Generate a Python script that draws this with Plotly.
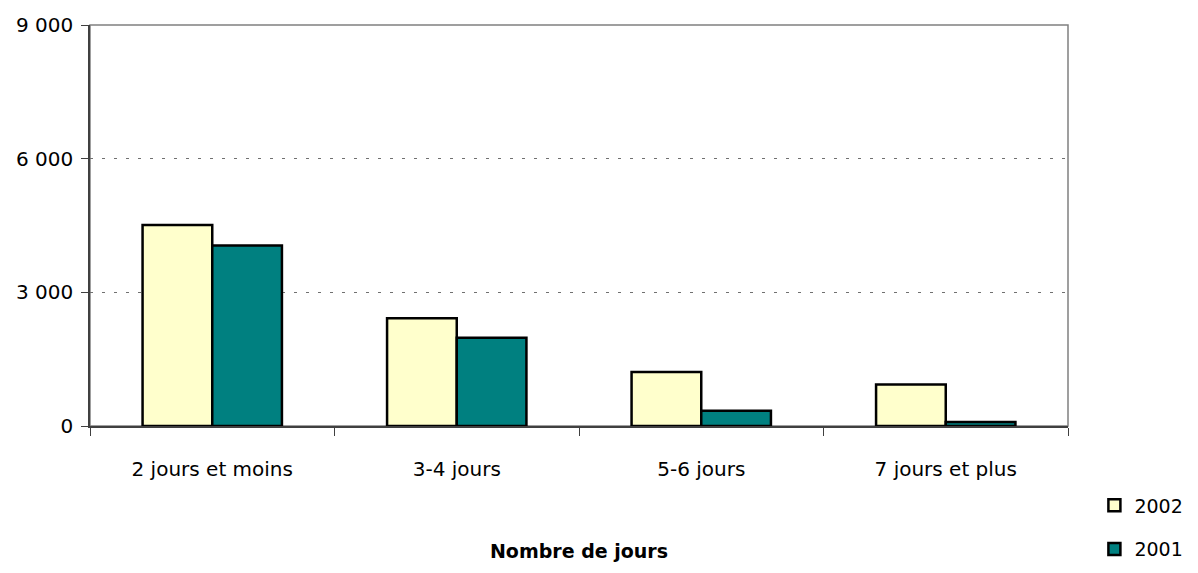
import plotly.graph_objects as go

# data
categories = ["2 jours et moins", "3-4 jours", "5-6 jours", "7 jours et plus"]
values_2002 = [4510, 2420, 1210, 930]
values_2001 = [4050, 1980, 340, 90]
y_ticks = [0, 3000, 6000, 9000]

FONT = "DejaVu Sans"

fig = go.Figure()
fig.add_trace(
    go.Bar(
        x=categories,
        y=values_2002,
        name="2002",
        legendgroup="2002",
        marker=dict(color="#FFFFCC", line=dict(color="black", width=2.5)),
    )
)
fig.add_trace(
    go.Bar(
        x=categories,
        y=values_2001,
        name="2001",
        legendgroup="2001",
        marker=dict(color="#008080", line=dict(color="black", width=2.5)),
    )
)

# grey frame on top/right of the plot area
fig.add_shape(
    type="rect", xref="paper", yref="paper", x0=0, x1=1, y0=0, y1=1,
    line=dict(color="#808080", width=1.5), layer="below",
)

fig.update_layout(
    width=1198,
    height=573,
    margin=dict(l=82, r=138, t=17, b=145),
    plot_bgcolor="white",
    paper_bgcolor="white",
    barmode="group",
    bargap=0.43,
    bargroupgap=0,
    separators=", ",
    font=dict(family=FONT, size=18, color="black"),
    legend=dict(
        x=1.027, y=-0.355, xanchor="left", yanchor="bottom",
        font=dict(size=19), tracegroupgap=16, itemwidth=30,
        bgcolor="rgba(0,0,0,0)",
    ),
    xaxis=dict(
        automargin=False,
        showline=True, linecolor="#404040", linewidth=1.5,
        ticks="outside", tickson="boundaries", ticklen=8, tickcolor="#404040",
        tickfont=dict(size=20), ticklabelstandoff=24,
        title=dict(text="<b>Nombre de jours</b>", font=dict(size=19), standoff=65),
    ),
    yaxis=dict(
        automargin=False,
        range=[0, 9000], tickvals=y_ticks, tickformat=",d",
        showline=True, linecolor="#404040", linewidth=1.5,
        ticks="outside", ticklen=7, tickcolor="#404040",
        showgrid=True, gridcolor="#707070", griddash="3px,9px", gridwidth=1,
        zeroline=False, tickfont=dict(size=20), ticklabelstandoff=4,
    ),
)

fig.write_html("out.html")
